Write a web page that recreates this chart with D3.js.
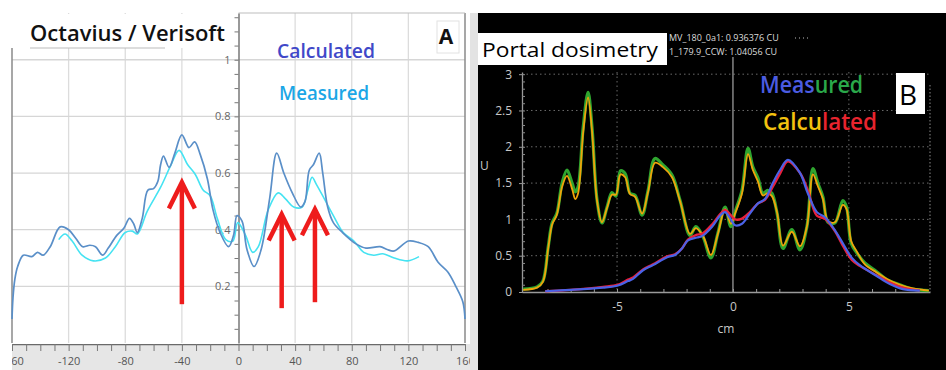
<!DOCTYPE html>
<html>
<head>
<meta charset="utf-8">
<script src="https://cdn.jsdelivr.net/npm/d3@7"></script>
<style>
  html, body { margin: 0; padding: 0; background: #fff; }
  svg { display: block; }
</style>
</head>
<body>
<svg id="chart" width="946" height="370"></svg>
<script>
// ---- panel A : Octavius / Verisoft profile (mm, relative dose) ----
const octavius_calculated = [
    [-160, 0.085], [-159.3, 0.16], [-158, 0.225], [-156, 0.27], [-152, 0.31], [-146, 0.305],
    [-142, 0.32], [-138, 0.31], [-133, 0.34], [-126, 0.41], [-120, 0.4], [-115, 0.37],
    [-110, 0.34], [-105, 0.345], [-101, 0.34], [-96, 0.31], [-92, 0.335], [-86, 0.38],
    [-81, 0.405], [-77, 0.44], [-74, 0.42], [-71.5, 0.39], [-68, 0.44], [-64, 0.54],
    [-60, 0.545], [-57, 0.57], [-55, 0.63], [-53, 0.66], [-49, 0.62], [-45, 0.67],
    [-40, 0.735], [-35, 0.69], [-31, 0.71], [-27, 0.665], [-22, 0.58], [-18, 0.47],
    [-13, 0.39], [-7, 0.34], [-3.5, 0.38], [-1, 0.45], [2.5, 0.43], [6, 0.33], [11, 0.27],
    [16, 0.33], [22, 0.51], [27, 0.67], [32, 0.6], [38, 0.53], [44, 0.48], [47, 0.5],
    [50, 0.61], [53, 0.63], [57, 0.67], [59.5, 0.6], [63, 0.48], [67, 0.425], [73.5, 0.39],
    [83, 0.35], [90, 0.335], [100, 0.34], [105, 0.33], [110, 0.325], [120, 0.36],
    [127, 0.355], [134, 0.34], [141, 0.285], [148, 0.25], [153.5, 0.2], [158.5, 0.145],
    [160, 0.085]
];
const octavius_measured = [
    [-127, 0.365], [-122.5, 0.385], [-117.5, 0.36], [-110.5, 0.31], [-102.5, 0.29], [-94, 0.3],
    [-87, 0.34], [-80, 0.39], [-75, 0.395], [-71.5, 0.385], [-64.5, 0.465], [-55, 0.55],
    [-48, 0.625], [-42, 0.68], [-36, 0.63], [-30.5, 0.595], [-25, 0.54], [-20, 0.52],
    [-15, 0.44], [-9, 0.365], [-4, 0.36], [-0.5, 0.425], [5, 0.38], [10, 0.32], [14, 0.34],
    [21, 0.47], [28, 0.53], [33, 0.51], [39, 0.48], [45, 0.48], [49, 0.54], [52, 0.585],
    [55, 0.56], [60, 0.515], [67, 0.45], [74, 0.39], [81.5, 0.36], [88.5, 0.32],
    [95.5, 0.31], [102, 0.315], [110, 0.3], [119.5, 0.29], [127.5, 0.305]
];
// red arrows: [x, tip value, tail value]
const octavius_arrows = [[-40, 0.567, 0.137], [30.5, 0.454, 0.123], [54, 0.472, 0.144]];
const octavius_x_labels = [-160, -120, -80, -40, 0, 40, 80, 120, 160];
const octavius_y_labels = [0.2, 0.4, 0.6, 0.8, 1];

// ---- panel B : Portal dosimetry profile (cm, CU) ----
const portal_measured_1 = [
    [-9.05, 0.04], [-8.45, 0.07], [-8.2, 0.15], [-7.97, 0.62], [-7.8, 0.95], [-7.6, 1.08],
    [-7.37, 1.5], [-7.16, 1.68], [-6.94, 1.5], [-6.8, 1.38], [-6.68, 1.45], [-6.46, 2.27],
    [-6.25, 2.75], [-6.08, 2.27], [-5.86, 1.26], [-5.65, 0.95], [-5.43, 1.17], [-5.22, 1.37],
    [-5.05, 1.32], [-4.85, 1.67], [-4.65, 1.63], [-4.44, 1.36], [-4.22, 1.33], [-3.92, 1.06],
    [-3.66, 1.4], [-3.36, 1.84], [-3.02, 1.75], [-2.63, 1.61], [-2.28, 1.26], [-1.85, 0.78],
    [-1.6, 0.9], [-1.29, 0.76], [-0.95, 0.47], [-0.65, 0.81], [-0.34, 1.17], [-0.09, 0.9],
    [0.09, 1.1], [0.39, 1.4], [0.65, 1.98], [0.86, 1.72], [1.08, 1.57], [1.29, 1.36],
    [1.5, 1.4], [1.68, 1.36], [1.9, 1.09], [2.16, 0.6], [2.54, 0.86], [2.89, 0.58],
    [3.19, 0.9], [3.45, 1.7], [3.66, 1.5], [3.88, 1.31], [4.1, 0.96], [4.4, 0.95],
    [4.74, 1.26], [4.9, 1.17], [5.1, 0.67], [5.34, 0.54], [5.69, 0.4], [6.2, 0.28],
    [6.64, 0.17], [7.2, 0.1], [7.76, 0.04], [8.45, 0.02]
];
const portal_calculated_1 = [
    [-9.05, 0.03], [-8.45, 0.06], [-8.2, 0.14], [-7.97, 0.6], [-7.8, 0.93], [-7.6, 1.06],
    [-7.37, 1.45], [-7.16, 1.6], [-6.94, 1.42], [-6.8, 1.28], [-6.68, 1.36], [-6.46, 2.2],
    [-6.25, 2.68], [-6.08, 2.22], [-5.86, 1.25], [-5.65, 0.96], [-5.43, 1.16], [-5.22, 1.34],
    [-5.05, 1.34], [-4.85, 1.62], [-4.65, 1.58], [-4.44, 1.35], [-4.22, 1.31], [-3.92, 1.08],
    [-3.66, 1.38], [-3.36, 1.78], [-3.02, 1.72], [-2.63, 1.58], [-2.28, 1.25], [-1.85, 0.8],
    [-1.6, 0.88], [-1.29, 0.77], [-0.95, 0.51], [-0.65, 0.8], [-0.34, 1.14], [-0.09, 0.94],
    [0.09, 1.08], [0.39, 1.36], [0.65, 1.9], [0.86, 1.68], [1.08, 1.52], [1.29, 1.33],
    [1.5, 1.36], [1.68, 1.32], [1.9, 1.1], [2.16, 0.64], [2.54, 0.83], [2.89, 0.63],
    [3.19, 0.9], [3.45, 1.62], [3.66, 1.46], [3.88, 1.28], [4.1, 0.98], [4.4, 0.96],
    [4.74, 1.2], [4.9, 1.14], [5.1, 0.7], [5.34, 0.56], [5.69, 0.38], [6.2, 0.27],
    [6.64, 0.18], [7.2, 0.1], [7.76, 0.05], [8.45, 0.02]
];
const portal_measured_2 = [
    [-8.1, 0.01], [-7, 0.03], [-5.6, 0.06], [-4.96, 0.09], [-4.53, 0.15], [-4.31, 0.18],
    [-3.88, 0.3], [-3.45, 0.37], [-2.84, 0.48], [-2.5, 0.51], [-2.2, 0.6], [-1.94, 0.71],
    [-1.55, 0.75], [-1.34, 0.77], [-0.9, 0.9], [-0.56, 1.05], [-0.34, 1.1], [-0.13, 1.02],
    [0.09, 0.92], [0.39, 0.94], [0.73, 1.08], [1.08, 1.22], [1.38, 1.28], [1.72, 1.5],
    [2.03, 1.68], [2.37, 1.82], [2.89, 1.64], [3.23, 1.36], [3.62, 1.1], [3.97, 1.03],
    [4.4, 0.85], [4.74, 0.67], [5.13, 0.47], [5.47, 0.37], [6.2, 0.22], [6.77, 0.11],
    [7.33, 0.04], [8.06, 0.02]
];
const portal_calculated_2 = [
    [-8.1, 0.01], [-7, 0.03], [-5.6, 0.07], [-4.96, 0.1], [-4.53, 0.17], [-4.31, 0.2],
    [-3.88, 0.31], [-3.45, 0.38], [-2.84, 0.49], [-2.5, 0.52], [-2.2, 0.6], [-1.94, 0.72],
    [-1.55, 0.79], [-1.34, 0.8], [-0.9, 0.93], [-0.56, 1.07], [-0.34, 1.13], [-0.13, 1.07],
    [0.09, 1.0], [0.39, 1.01], [0.73, 1.1], [1.08, 1.22], [1.38, 1.27], [1.72, 1.45],
    [2.03, 1.63], [2.37, 1.8], [2.89, 1.64], [3.23, 1.4], [3.62, 1.05], [3.97, 1.01],
    [4.4, 0.84], [4.74, 0.64], [5.13, 0.44], [5.47, 0.36], [6.2, 0.23], [6.77, 0.13],
    [7.33, 0.06], [8.06, 0.02]
];
const portal_x_labels = [-5, 0, 5];
const portal_y_labels = [0, 0.5, 1, 1.5, 2, 2.5, 3];
const portal_header = ['MV_180_0a1: 0.936376 CU', '1_179.9_CCW: 1.04056 CU'];

const font = '"Open Sans", "Noto Sans", sans-serif';
const svg = d3.select('#chart');

// ================= panel A =================
const ax = d3.scaleLinear().domain([-160, 160]).range([12, 465]);
const ay = d3.scaleLinear().domain([0, 1.165]).range([343, 13]);
const panel_a = svg.append('g');

svg.append('defs').append('clipPath').attr('id', 'clip_a')
    .append('rect').attr('x', 12).attr('y', 0).attr('width', 458).attr('height', 370);

panel_a.append('rect').attr('x', 12).attr('y', 344).attr('width', 458).attr('height', 26).attr('fill', '#e6e6e6');

// grid
panel_a.selectAll('.vgrid').data(octavius_x_labels.filter(d => Math.abs(d) !== 160 && d !== 0)).enter()
    .append('line')
    .attr('x1', d => ax(d)).attr('x2', d => ax(d))
    .attr('y1', ay(1.165)).attr('y2', ay(0))
    .attr('stroke', '#dcdcdc').attr('stroke-width', 1.3);
panel_a.selectAll('.hgrid').data(octavius_y_labels).enter()
    .append('line')
    .attr('x1', ax(-160)).attr('x2', ax(160))
    .attr('y1', d => ay(d)).attr('y2', d => ay(d))
    .attr('stroke', '#d6d6d6').attr('stroke-width', 1.3);

// frame
panel_a.append('line').attr('x1', ax(-160)).attr('x2', ax(-160)).attr('y1', 40).attr('y2', ay(0)).attr('stroke', '#8a8a8a').attr('stroke-width', 1.5);
panel_a.append('line').attr('x1', ax(160)).attr('x2', ax(160)).attr('y1', ay(1.165)).attr('y2', ay(0)).attr('stroke', '#8a8a8a').attr('stroke-width', 1.5);
panel_a.append('line').attr('x1', ax(0)).attr('x2', ax(160)).attr('y1', ay(1.165)).attr('y2', ay(1.165)).attr('stroke', '#bdbdbd');

// x axis
const x_axis_a = panel_a.append('g')
    .attr('transform', `translate(0, ${ay(0) + 1})`)
    .attr('clip-path', 'url(#clip_a)')
    .call(d3.axisBottom(ax)
        .tickValues(d3.range(-160, 161, 10))
        .tickSize(7)
        .tickSizeOuter(0)
        .tickPadding(6)
        .tickFormat(d => octavius_x_labels.includes(d) ? String(d) : ''));
x_axis_a.select('.domain').attr('stroke', '#6a6a6a').attr('stroke-width', 1.5);
x_axis_a.selectAll('.tick line').attr('stroke', '#777');
x_axis_a.selectAll('.tick text').attr('fill', '#555').style('font-family', font).style('font-size', '11px');

// centre y axis
const y_axis_a = panel_a.append('g')
    .attr('transform', `translate(${ax(0)}, 0)`)
    .call(d3.axisLeft(ay)
        .tickValues(d3.range(1, 24).map(i => i * 0.05))
        .tickSize(4)
        .tickSizeOuter(0)
        .tickPadding(4)
        .tickFormat(d => octavius_y_labels.some(v => Math.abs(v - d) < 1e-6) ? String(+d.toFixed(1)) : ''));
y_axis_a.select('.domain').attr('stroke', '#777').attr('stroke-width', 1.5);
y_axis_a.selectAll('.tick line').attr('stroke', '#777');
y_axis_a.selectAll('.tick text').attr('fill', '#666').style('font-family', font).style('font-size', '11px');

// profiles
const line_a = d3.line().x(d => ax(d[0])).y(d => ay(d[1])).curve(d3.curveCatmullRom.alpha(0.5));
panel_a.append('path').datum(octavius_measured)
    .attr('d', line_a).attr('fill', 'none').attr('stroke', '#45e3f2').attr('stroke-width', 1.6);
panel_a.append('path').datum(octavius_calculated)
    .attr('d', line_a).attr('fill', 'none').attr('stroke', '#5a8fc8').attr('stroke-width', 1.7);

// arrows
const arrows = panel_a.selectAll('.arrow').data(octavius_arrows).enter().append('g');
arrows.append('line')
    .attr('x1', d => ax(d[0])).attr('x2', d => ax(d[0]))
    .attr('y1', d => ay(d[2])).attr('y2', d => ay(d[1]) + 3)
    .attr('stroke', '#ee1c1c').attr('stroke-width', 4.5);
arrows.append('path')
    .attr('d', d => {
        const x = ax(d[0]), y = ay(d[1]);
        return `M${x - 13},${y + 26} L${x},${y} L${x + 13},${y + 26}`;
    })
    .attr('fill', 'none').attr('stroke', '#ee1c1c').attr('stroke-width', 4.5)
    .attr('stroke-linejoin', 'miter');

// title + legend
panel_a.append('rect').attr('x', 0).attr('y', 14).attr('width', 232).attr('height', 34).attr('fill', '#fff');
panel_a.append('line').attr('x1', 30).attr('x2', 165).attr('y1', 48).attr('y2', 48).attr('stroke', '#bbb');
panel_a.append('text').attr('x', 30).attr('y', 41)
    .attr('textLength', 195).attr('lengthAdjust', 'spacingAndGlyphs')
    .style('font-family', font).style('font-size', '21px').style('font-weight', 600).attr('fill', '#111')
    .text('Octavius / Verisoft');
panel_a.append('text').attr('x', 277).attr('y', 58)
    .attr('textLength', 98).attr('lengthAdjust', 'spacingAndGlyphs')
    .style('font-family', font).style('font-size', '20px').style('font-weight', 600).attr('fill', '#4048c8')
    .text('Calculated');
panel_a.append('text').attr('x', 279).attr('y', 100)
    .attr('textLength', 90).attr('lengthAdjust', 'spacingAndGlyphs')
    .style('font-family', font).style('font-size', '20px').style('font-weight', 600).attr('fill', '#1ba6e6')
    .text('Measured');
panel_a.append('rect').attr('x', 437).attr('y', 21).attr('width', 22).attr('height', 32)
    .attr('fill', '#fff').attr('stroke', '#e2e2e2');
panel_a.append('text').attr('x', 446).attr('y', 44).attr('text-anchor', 'middle')
    .style('font-family', font).style('font-size', '21px').style('font-weight', 700).attr('fill', '#111')
    .text('A');

// ================= panel B =================
const bx = d3.scaleLinear().domain([-9.1, 8.5]).range([522, 930]);
const by = d3.scaleLinear().domain([0, 3.03]).range([292, 72]);
const panel_b = svg.append('g');

panel_b.append('rect').attr('x', 470).attr('y', 13).attr('width', 8).attr('height', 357).attr('fill', '#e3e3e3');
panel_b.append('rect').attr('x', 478).attr('y', 13).attr('width', 468).attr('height', 357).attr('fill', '#000');

// grid
panel_b.selectAll('.hgrid').data(portal_y_labels.filter(d => d > 0)).enter()
    .append('line')
    .attr('x1', bx(-9.1)).attr('x2', bx(8.5))
    .attr('y1', d => by(d)).attr('y2', d => by(d))
    .attr('stroke', '#6a6a6a').attr('stroke-dasharray', '1.5,3');
panel_b.selectAll('.vgrid').data(portal_x_labels.filter(d => d !== 0)).enter()
    .append('line')
    .attr('x1', d => bx(d)).attr('x2', d => bx(d))
    .attr('y1', by(3.03)).attr('y2', by(0))
    .attr('stroke', '#6a6a6a').attr('stroke-dasharray', '1.5,3');
panel_b.append('line')
    .attr('x1', bx(8.5)).attr('x2', bx(8.5)).attr('y1', 85).attr('y2', by(0))
    .attr('stroke', '#8a8a8a').attr('stroke-dasharray', '1.5,2');
panel_b.append('line')
    .attr('x1', bx(0)).attr('x2', bx(0)).attr('y1', 57).attr('y2', by(0))
    .attr('stroke', '#9a9a9a').attr('stroke-width', 1.3);

// axes
const y_axis_b = panel_b.append('g')
    .attr('transform', `translate(${bx(-9.1)}, 0)`)
    .call(d3.axisLeft(by).tickValues(portal_y_labels).tickSize(3).tickSizeOuter(0).tickPadding(7)
        .tickFormat(d => String(d)));
y_axis_b.select('.domain').attr('stroke', '#9a9a9a').attr('stroke-width', 1.3);
y_axis_b.selectAll('.tick line').attr('stroke', '#9a9a9a');
y_axis_b.selectAll('.tick text').attr('fill', '#c8c8c8').style('font-family', font).style('font-size', '12px');
panel_b.append('g')
    .attr('transform', `translate(${bx(-9.1)}, 0)`)
    .call(d3.axisRight(by).tickValues(d3.range(0, 31).map(i => i * 0.1)).tickSize(3).tickSizeOuter(0).tickFormat(''))
    .call(g => g.select('.domain').remove())
    .selectAll('.tick line').attr('stroke', '#8a8a8a');

const x_axis_b = panel_b.append('g')
    .attr('transform', `translate(0, ${by(0)})`)
    .call(d3.axisBottom(bx).tickValues(portal_x_labels).tickSize(0).tickSizeOuter(0).tickPadding(10)
        .tickFormat(d => String(d)));
x_axis_b.select('.domain').attr('stroke', '#9a9a9a').attr('stroke-width', 1.3);
x_axis_b.selectAll('.tick text').attr('fill', '#c8c8c8').style('font-family', font).style('font-size', '12px');
panel_b.append('g')
    .attr('transform', `translate(0, ${by(0)})`)
    .call(d3.axisTop(bx).tickValues(d3.range(-8, 9, 1)).tickSize(3).tickSizeOuter(0).tickFormat(''))
    .call(g => g.select('.domain').remove())
    .selectAll('.tick line').attr('stroke', '#9a9a9a');

panel_b.append('text').attr('x', bx(-0.3)).attr('y', 333).attr('text-anchor', 'middle')
    .style('font-family', font).style('font-size', '12px').attr('fill', '#c8c8c8').text('cm');
panel_b.append('text').attr('x', 480).attr('y', 170)
    .style('font-family', font).style('font-size', '12px').attr('fill', '#c8c8c8').text('U');

// profiles
const line_b = d3.line().x(d => bx(d[0])).y(d => by(d[1])).curve(d3.curveCatmullRom.alpha(0.5));
panel_b.append('path').datum(portal_measured_1)
    .attr('d', line_b).attr('fill', 'none').attr('stroke', '#2fa52f').attr('stroke-width', 3.2);
panel_b.append('path').datum(portal_calculated_1)
    .attr('d', line_b).attr('fill', 'none').attr('stroke', '#f0a30a').attr('stroke-width', 1.8);
panel_b.append('path').datum(portal_calculated_2)
    .attr('d', line_b).attr('fill', 'none').attr('stroke', '#e8203c').attr('stroke-width', 2.4);
panel_b.append('path').datum(portal_measured_2)
    .attr('d', line_b).attr('fill', 'none').attr('stroke', '#4a62e6').attr('stroke-width', 2.2);

// header
panel_b.selectAll('.header').data(portal_header).enter()
    .append('text')
    .attr('x', 669).attr('y', (d, i) => 41 + i * 14)
    .style('font-family', font).style('font-size', '9px').attr('fill', '#dcdcdc')
    .text(d => d);
panel_b.append('line').attr('x1', 795).attr('x2', 810).attr('y1', 38).attr('y2', 38)
    .attr('stroke', '#bbb').attr('stroke-dasharray', '1,3');

// title box
panel_b.append('rect').attr('x', 478).attr('y', 33).attr('width', 189).attr('height', 32).attr('fill', '#fff');
panel_b.append('text').attr('x', 482).attr('y', 57)
    .attr('textLength', 176).attr('lengthAdjust', 'spacingAndGlyphs')
    .style('font-family', font).style('font-size', '20px').attr('fill', '#000')
    .text('Portal dosimetry');

// legend
const leg_meas = panel_b.append('text').attr('x', 760).attr('y', 93)
    .attr('textLength', 103).attr('lengthAdjust', 'spacingAndGlyphs')
    .style('font-family', font).style('font-size', '23px').style('font-weight', 600);
leg_meas.append('tspan').attr('fill', '#4b5ce2').text('Meas');
leg_meas.append('tspan').attr('fill', '#2aa84a').text('ured');
const leg_calc = panel_b.append('text').attr('x', 763).attr('y', 130)
    .attr('textLength', 114).attr('lengthAdjust', 'spacingAndGlyphs')
    .style('font-family', font).style('font-size', '23px').style('font-weight', 600);
leg_calc.append('tspan').attr('fill', '#f3c20f').text('Calcu');
leg_calc.append('tspan').attr('fill', '#e8242e').text('lated');

panel_b.append('rect').attr('x', 896).attr('y', 73).attr('width', 29).attr('height', 41).attr('fill', '#fff');
panel_b.append('text').attr('x', 908).attr('y', 105).attr('text-anchor', 'middle')
    .style('font-family', font).style('font-size', '28px').attr('fill', '#000')
    .text('B');
</script>
</body>
</html>
